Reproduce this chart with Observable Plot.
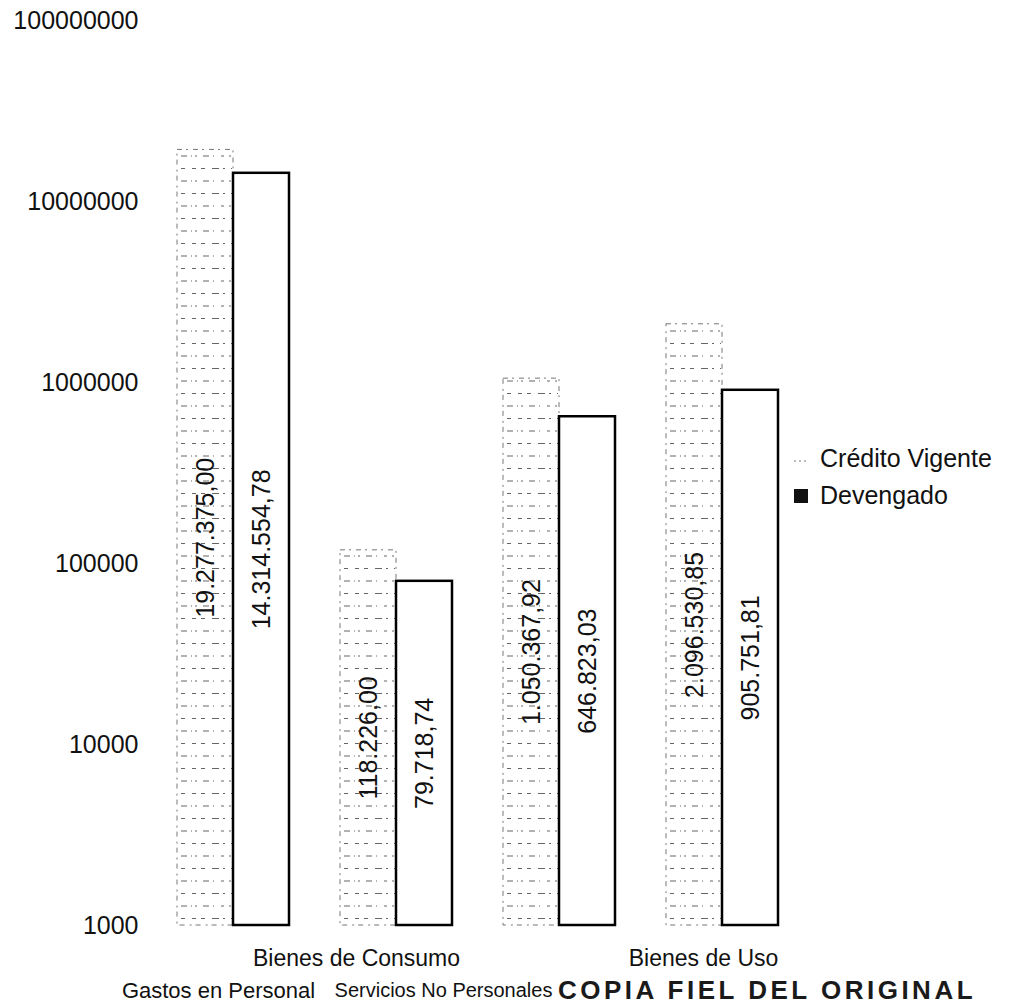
<!DOCTYPE html>
<html><head><meta charset="utf-8">
<script src="https://cdn.jsdelivr.net/npm/d3@7"></script>
<script src="https://cdn.jsdelivr.net/npm/@observablehq/plot@0.6"></script>
<style>
body{margin:0;background:#fff;font-family:"Liberation Sans",Arial,sans-serif;}
#wrap{position:relative;width:1009px;height:1007px;overflow:hidden;}
#legend{position:absolute;left:792px;top:440px;font-size:25px;color:#111;line-height:37px;}
#legend .row{display:flex;align-items:center;white-space:nowrap;}
#legend .sw{display:inline-block;width:16px;height:14px;margin-right:12px;}
#stamp{position:absolute;left:558px;top:975px;font-size:26px;font-weight:bold;color:#1a1a1a;white-space:nowrap;letter-spacing:3.5px;}
</style></head><body>
<div id="wrap"><div id="chart"></div><div id="legend"></div><div id="stamp"></div></div>
<script>
const categories = ["Gastos en Personal", "Bienes de Consumo", "Servicios No Personales", "Bienes de Uso"];
const series = ["Crédito Vigente", "Devengado"];
const creditoVigente = [19277375.00, 118226.00, 1050367.92, 2096530.85];
const devengado = [14314554.78, 79718.74, 646823.03, 905751.81];
const yTicks = [1000, 10000, 100000, 1000000, 10000000, 100000000];
const stampText = "COPIA FIEL DEL ORIGINAL";

const data = categories.flatMap((c, i) => [
  {category: c, series: series[0], value: creditoVigente[i]},
  {category: c, series: series[1], value: devengado[i]}
]);
const es = d3.formatLocale({decimal: ",", thousands: ".", grouping: [3], currency: ["$", ""]});
const fmt = es.format(",.2f");
const base = yTicks[0];

// category label: staggered rows like the original
function catLabel(i, opts) {
  return Plot.text([{category: categories[i]}], {fx: "category", frameAnchor: "bottom", lineAnchor: "middle", text: "category", fill: "#111", ...opts});
}

const chart = Plot.plot({
  width: 1009, height: 1007,
  marginLeft: 150, marginRight: 205, marginTop: 20, marginBottom: 82,
  style: {fontFamily: "Liberation Sans, Arial, sans-serif", fontSize: "25px", color: "#111", background: "#fff"},
  fx: {domain: categories, paddingInner: 0.314, paddingOuter: 0.159, axis: null, label: null},
  x: {domain: series, padding: 0, axis: null},
  y: {type: "log", domain: [yTicks[0], yTicks[yTicks.length - 1]], ticks: yTicks, tickFormat: d => String(d), tickSize: 0, tickPadding: 39, label: null},
  marks: [
    Plot.barY(data.filter(d => d.series === series[0]), {fx: "category", x: "series", y1: base, y2: "value", fill: "url(#hatch)", stroke: "#777", strokeWidth: 1, strokeDasharray: "5,4,2,5", inset: 0}),
    Plot.barY(data.filter(d => d.series === series[1]), {fx: "category", x: "series", y1: base, y2: "value", fill: "white", stroke: "black", strokeWidth: 2.5, inset: 0}),
    Plot.text(data, {fx: "category", x: "series", y: d => Math.sqrt(base * d.value), text: d => fmt(d.value), rotate: -90, fontSize: 25, fill: "#111"}),
    catLabel(0, {dy: 65, dx: -15, fontSize: 22}),
    catLabel(1, {dy: 33, dx: -40, fontSize: 23}),
    catLabel(2, {dy: 65, dx: -116, fontSize: 20}),
    catLabel(3, {dy: 33, dx: -19, fontSize: 23})
  ]
});

// hatch pattern for Crédito Vigente
const defs = d3.select(chart).insert("defs", ":first-child");
const pat = defs.append("pattern").attr("id", "hatch").attr("patternUnits", "userSpaceOnUse")
  .attr("width", 56).attr("height", 25);
pat.append("rect").attr("width", 56).attr("height", 25).attr("fill", "white");
pat.append("line").attr("x1", 0).attr("x2", 56).attr("y1", 6).attr("y2", 6)
  .attr("stroke", "#666").attr("stroke-width", 1.1).attr("stroke-dasharray", "2,6,6,4,1,7,3,5");
pat.append("line").attr("x1", 0).attr("x2", 56).attr("y1", 18.5).attr("y2", 18.5)
  .attr("stroke", "#666").attr("stroke-width", 1.1).attr("stroke-dasharray", "1,5,4,7,7,4,2,6");

document.getElementById("chart").appendChild(chart);

// legend
const legend = d3.select("#legend");
series.forEach((s, i) => {
  const row = legend.append("div").attr("class", "row");
  const sw = row.append("svg").attr("class", "sw").attr("width", 16).attr("height", 14);
  if (i === 0) {
    sw.append("line").attr("x1", 2).attr("x2", 14).attr("y1", 9).attr("y2", 9)
      .attr("stroke", "#777").attr("stroke-width", 1.2).attr("stroke-dasharray", "2,3");
  } else {
    sw.append("rect").attr("x", 2).attr("y", 0).attr("width", 14).attr("height", 14).attr("fill", "#111");
  }
  row.append("span").text(s);
});
document.getElementById("stamp").textContent = stampText;
</script>
</body></html>
